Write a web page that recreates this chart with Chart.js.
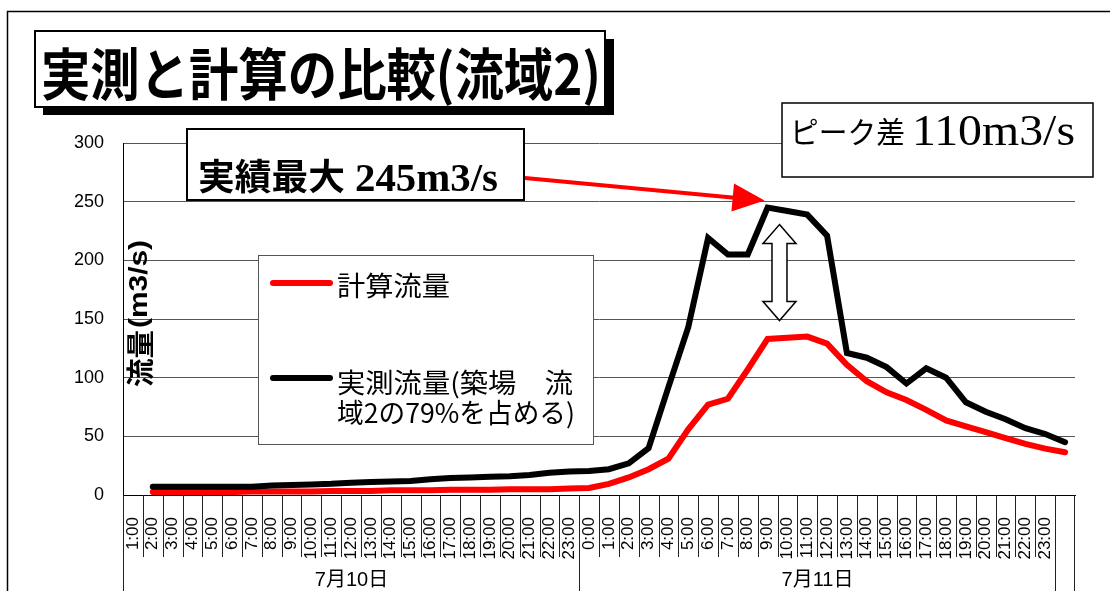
<!DOCTYPE html>
<html>
<head>
<meta charset="utf-8">
<title>実測と計算の比較(流域2)</title>
<script src="https://cdn.jsdelivr.net/npm/chart.js@4.4.1/dist/chart.umd.min.js"></script>
<style>
  html, body { margin: 0; padding: 0; background: #fff; }
  #wrap { position: relative; width: 1110px; height: 591px; }
</style>
</head>
<body>
<div id="wrap"><canvas id="flowChart" width="1110" height="591"></canvas></div>
<script>
const hours10 = ['1:00', '2:00', '3:00', '4:00', '5:00', '6:00', '7:00', '8:00', '9:00', '10:00', '11:00', '12:00',
  '13:00', '14:00', '15:00', '16:00', '17:00', '18:00', '19:00', '20:00', '21:00', '22:00', '23:00'];
const hours11 = ['0:00', '1:00', '2:00', '3:00', '4:00', '5:00', '6:00', '7:00', '8:00', '9:00', '10:00', '11:00', '12:00',
  '13:00', '14:00', '15:00', '16:00', '17:00', '18:00', '19:00', '20:00', '21:00', '22:00', '23:00'];
// one trailing slot (next day 0:00) carries the last reading but no label
const tickLabels = hours10.concat(hours11, ['']);
const dateGroups = ['7月10日', '7月11日'];

// 計算流量 (m3/s)
const calcFlow = [null,
  2.5, 2.5, 2.5, 2.5, 2.5, 3, 3, 3, 3, 3.5, 3.5, 3.5, 4, 4, 4, 4.5, 4.5, 4.5, 5, 5, 5, 5.5,
  6, 9.5, 15, 22, 31, 56, 77, 82, 107, 133, 134, 135, 129, 111, 97, 87.5, 81, 72.5, 63.5, 58.5, 53.5, 48.5, 43.5, 39.5,
  36.5];
// 実測流量 (m3/s)
const obsFlow = [null,
  7, 7, 7, 7, 7, 7, 8, 8.5, 9, 9.5, 10.5, 11, 11.5, 12, 13.5, 14.5, 15, 15.5, 16, 17, 19, 20,
  20.5, 22, 27, 40, 92, 143, 219, 205, 205, 245, 242, 239, 221, 121, 117, 109, 95, 108, 100, 79, 71, 64.5, 57, 52,
  45];

const yTicks = [0, 50, 100, 150, 200, 250, 300];
const calcName = '計算流量';
const obsName = ['実測流量(築場　流', '域2の79%を占める)'];

const jp = '"Noto Sans CJK JP", sans-serif';
const sans = '"Liberation Sans", Arial, sans-serif';
const serif = '"Liberation Serif", "Times New Roman", serif';

// draw text squeezed/stretched to a given width
function fitText(ctx, text, x, y, width, font) {
  ctx.save();
  ctx.font = font;
  const w = ctx.measureText(text).width;
  ctx.translate(x, y);
  ctx.scale(width / w, 1);
  ctx.fillText(text, 0, 0);
  ctx.restore();
}

function box(ctx, x, y, w, h, stroke, lw) {
  ctx.fillStyle = '#fff';
  ctx.fillRect(x, y, w, h);
  ctx.strokeStyle = stroke;
  ctx.lineWidth = lw;
  ctx.strokeRect(x, y, w, h);
}

const decor = {
  id: 'decor',
  beforeDraw(chart) {
    const ctx = chart.ctx;
    ctx.save();
    ctx.fillStyle = '#fff';
    ctx.fillRect(0, 0, chart.width, chart.height);
    // outer frame
    ctx.strokeStyle = '#000';
    ctx.lineWidth = 1.5;
    ctx.beginPath();
    ctx.moveTo(7.5, chart.height);
    ctx.lineTo(7.5, 11.5);
    ctx.lineTo(chart.width, 11.5);
    ctx.stroke();
    ctx.restore();
  },
  afterDraw(chart) {
    const ctx = chart.ctx;
    const xs = chart.scales.x, ys = chart.scales.y;
    const area = chart.chartArea;
    const step = xs.getPixelForValue(1) - xs.getPixelForValue(0);
    const edge = i => Math.round(xs.getPixelForValue(i) - step / 2) + 0.5;
    const split1 = hours10.length, split2 = hours10.length + hours11.length;

    ctx.save();
    // category separators and date group row
    ctx.strokeStyle = '#222';
    ctx.lineWidth = 1;
    ctx.beginPath();
    for (let i = 1; i < tickLabels.length; i++) {
      const bx = edge(i);
      ctx.moveTo(bx, area.bottom);
      ctx.lineTo(bx, (i === split1 || i === split2) ? chart.height : area.bottom + 62);
    }
    ctx.moveTo(Math.round(area.left) + 0.5, area.bottom);
    ctx.lineTo(Math.round(area.left) + 0.5, chart.height);
    ctx.moveTo(Math.round(area.right) - 0.5, area.bottom);
    ctx.lineTo(Math.round(area.right) - 0.5, chart.height);
    ctx.stroke();

    ctx.fillStyle = '#000';
    ctx.textAlign = 'center';
    ctx.textBaseline = 'middle';
    ctx.font = '20px "Liberation Sans", ' + jp;
    ctx.fillText(dateGroups[0], (edge(0) + edge(split1)) / 2, 580);
    ctx.fillText(dateGroups[1], (edge(split1) + edge(split2)) / 2, 580);

    // y axis title, reading upward
    ctx.save();
    ctx.translate(140, 387);
    ctx.rotate(-Math.PI / 2);
    ctx.textAlign = 'left';
    fitText(ctx, '流量', 0, 0, 57, 'bold 28px ' + jp);
    fitText(ctx, '(m3/s)', 59, 0, 88, 'bold 26px ' + sans);
    ctx.restore();

    // legend
    ctx.textAlign = 'left';
    box(ctx, 258.5, 255.5, 335, 189, '#555', 1);
    ctx.lineCap = 'round';
    ctx.lineWidth = 6;
    ctx.strokeStyle = '#ff0000';
    ctx.beginPath(); ctx.moveTo(273, 283); ctx.lineTo(330, 283); ctx.stroke();
    ctx.strokeStyle = '#000';
    ctx.beginPath(); ctx.moveTo(273, 378); ctx.lineTo(330, 378); ctx.stroke();
    ctx.fillStyle = '#000';
    fitText(ctx, calcName, 337, 286, 113, '27px ' + jp);
    fitText(ctx, obsName[0], 337, 383, 236, '27px ' + jp);
    fitText(ctx, obsName[1], 337, 413, 238, '27px ' + jp);

    // peaks
    const obsVals = obsFlow.filter(v => v !== null);
    const calcVals = calcFlow.filter(v => v !== null);
    const pk = obsFlow.indexOf(Math.max(...obsVals));
    const ck = calcFlow.indexOf(Math.max(...calcVals));
    const px = xs.getPixelForValue(pk), py = ys.getPixelForValue(obsFlow[pk]);
    const cy = ys.getPixelForValue(calcFlow[ck]);

    // 実績最大 box and red arrow
    box(ctx, 187, 129, 337, 71, '#000', 2);
    ctx.fillStyle = '#000';
    ctx.textBaseline = 'middle';
    fitText(ctx, '実績最大', 198, 176, 147, 'bold 36px ' + jp);
    ctx.textBaseline = 'alphabetic';
    fitText(ctx, Math.max(...obsVals) + 'm3/s', 355, 191, 143, 'bold 40px ' + serif);

    const sx = 525, sy = 178;
    const tx = px - 3, ty = py - 7;
    const len = Math.hypot(tx - sx, ty - sy);
    const ux = (tx - sx) / len, uy = (ty - sy) / len;
    const bx = tx - ux * 32, by = ty - uy * 32;
    ctx.strokeStyle = '#ff0000';
    ctx.lineWidth = 4;
    ctx.lineCap = 'butt';
    ctx.beginPath(); ctx.moveTo(sx, sy); ctx.lineTo(bx + ux * 2, by + uy * 2); ctx.stroke();
    ctx.fillStyle = '#ff0000';
    ctx.beginPath();
    ctx.moveTo(tx, ty);
    ctx.lineTo(bx - uy * 14, by + ux * 14);
    ctx.lineTo(bx + uy * 14, by - ux * 14);
    ctx.closePath();
    ctx.fill();

    // ピーク差 box
    const diff = Math.round(obsFlow[pk] - calcFlow[ck]);
    box(ctx, 782, 103, 311, 74, '#000', 1.5);
    ctx.fillStyle = '#000';
    ctx.textBaseline = 'middle';
    fitText(ctx, 'ピーク差', 790, 132, 115, '30px ' + jp);
    ctx.textBaseline = 'alphabetic';
    fitText(ctx, diff + 'm3/s', 912, 145, 163, '44px ' + serif);

    // hollow double arrow between the two peaks
    const ax = px + step * 0.6;
    const top = py + 17, bot = cy - 16;
    const hw = 16.5, sw = 7.5, hl = 19;
    ctx.beginPath();
    ctx.moveTo(ax, top);
    ctx.lineTo(ax + hw, top + hl);
    ctx.lineTo(ax + sw, top + hl);
    ctx.lineTo(ax + sw, bot - hl);
    ctx.lineTo(ax + hw, bot - hl);
    ctx.lineTo(ax, bot);
    ctx.lineTo(ax - hw, bot - hl);
    ctx.lineTo(ax - sw, bot - hl);
    ctx.lineTo(ax - sw, top + hl);
    ctx.lineTo(ax - hw, top + hl);
    ctx.closePath();
    ctx.fillStyle = '#fff';
    ctx.fill();
    ctx.strokeStyle = '#000';
    ctx.lineWidth = 1.5;
    ctx.lineJoin = 'miter';
    ctx.stroke();

    // title box with drop shadow
    ctx.fillStyle = '#000';
    ctx.fillRect(43, 39, 571, 76);
    box(ctx, 35, 31, 570, 76, '#000', 2);
    ctx.fillStyle = '#000';
    ctx.textBaseline = 'middle';
    fitText(ctx, '実測と計算の比較(流域2)', 41, 74, 560, 'bold 56px ' + jp);
    ctx.restore();
  }
};

new Chart(document.getElementById('flowChart'), {
  type: 'line',
  data: {
    labels: tickLabels,
    datasets: [
      {
        label: obsName.join(''),
        data: obsFlow,
        borderColor: '#000000',
        borderWidth: 6,
        borderCapStyle: 'round',
        pointRadius: 0,
        tension: 0,
        order: 0
      },
      {
        label: calcName,
        data: calcFlow,
        borderColor: '#ff0000',
        borderWidth: 6,
        borderCapStyle: 'round',
        pointRadius: 0,
        tension: 0,
        order: 1
      }
    ]
  },
  options: {
    responsive: false,
    devicePixelRatio: 1,
    animation: false,
    events: [],
    layout: { padding: { top: 143, right: 35, left: 0, bottom: 0 } },
    plugins: {
      legend: { display: false },
      tooltip: { enabled: false }
    },
    scales: {
      x: {
        offset: true,
        grid: { display: false },
        border: { display: true, color: '#000', width: 1 },
        ticks: {
          autoSkip: false,
          maxRotation: 90,
          minRotation: 90,
          padding: 14,
          color: '#000',
          font: { family: sans, size: 17 }
        },
        afterFit: s => { s.height = 96; }
      },
      y: {
        min: 0,
        max: 300,
        afterBuildTicks: s => { s.ticks = yTicks.map(v => ({ value: v })); },
        grid: { color: '#555', drawTicks: false },
        border: { display: true, color: '#000', width: 1 },
        ticks: {
          padding: 19,
          color: '#000',
          font: { family: sans, size: 18 }
        },
        afterFit: s => { s.width = 123; }
      }
    }
  },
  plugins: [decor]
});
</script>
</body>
</html>
